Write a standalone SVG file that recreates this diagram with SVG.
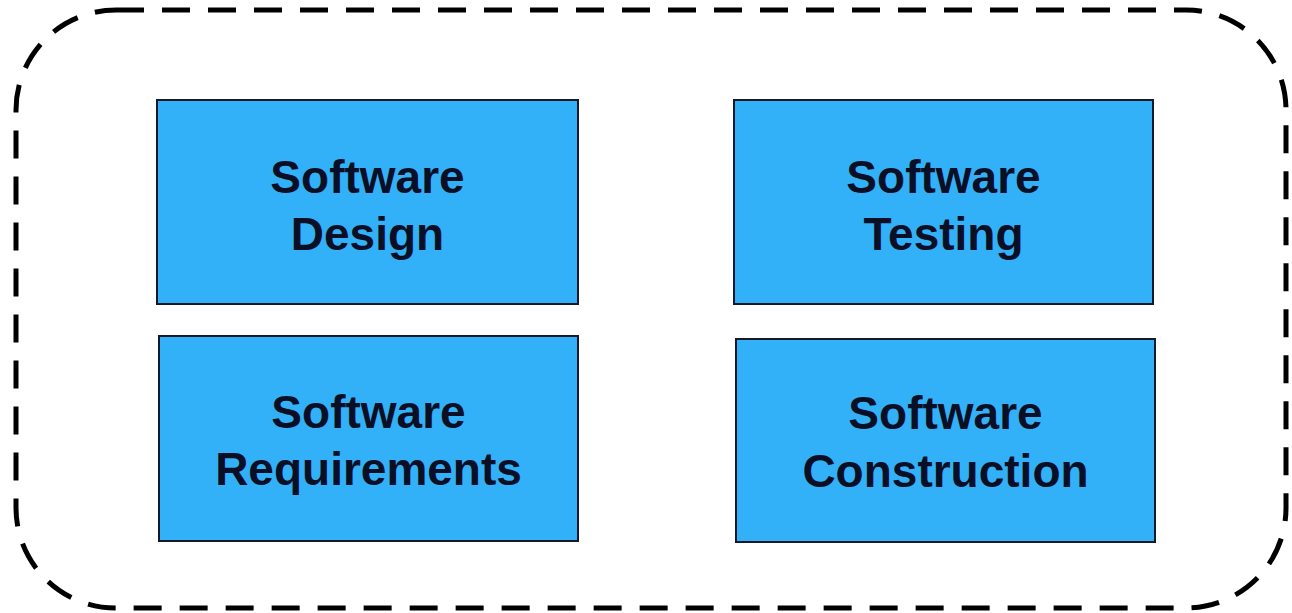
<svg xmlns="http://www.w3.org/2000/svg" width="1292" height="613" viewBox="0 0 1292 613">
  <style>
    .frame { fill: none; stroke: #000; stroke-width: 5; stroke-dasharray: 28 18; }
    .box { fill: #32b1f9; stroke: #14182a; stroke-width: 2; }
    .label { font-family: "Liberation Sans", Arial, sans-serif; font-weight: bold; font-size: 46px; fill: #0b0f26; text-anchor: middle; }
  </style>
  <rect width="1292" height="613" fill="#fff"/>
  <!-- dashed boundary around the four knowledge areas -->
  <g id="boundary">
    <rect class="frame" x="16" y="10" width="1270" height="598" rx="100" ry="100"/>
  </g>
  <g id="design">
    <rect class="box" x="157" y="100" width="421" height="204"/>
    <text class="label" x="367.5" y="193">Software</text>
    <text class="label" x="367.5" y="250">Design</text>
  </g>
  <g id="testing">
    <rect class="box" x="734" y="100" width="419" height="204"/>
    <text class="label" x="943.5" y="193">Software</text>
    <text class="label" x="943.5" y="250">Testing</text>
  </g>
  <g id="requirements">
    <rect class="box" x="159" y="336" width="419" height="205"/>
    <text class="label" x="368.5" y="428">Software</text>
    <text class="label" x="368.5" y="485">Requirements</text>
  </g>
  <g id="construction">
    <rect class="box" x="736" y="339" width="419" height="203"/>
    <text class="label" x="945.5" y="429">Software</text>
    <text class="label" x="945.5" y="487">Construction</text>
  </g>
  <g id="connectors"></g>
</svg>
